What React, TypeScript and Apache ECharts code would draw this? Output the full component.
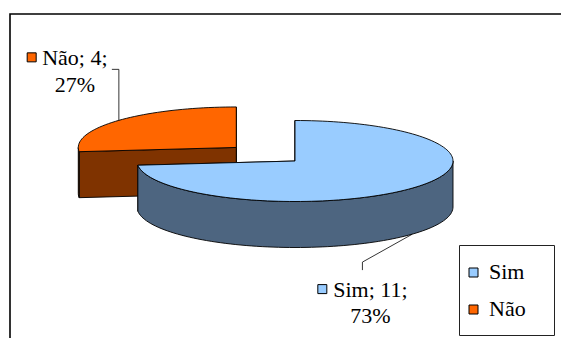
import React, { useEffect, useRef } from 'react';
import * as echarts from 'echarts';

// ---- data ----
const categories = ['Sim', 'Não'];
const values = [11, 4];

// ---- styles ----
const topColors = ['#99CCFF', '#FF6600'];
const sideColors = ['#4D6580', '#7F3300'];
const explodeFrac = [0, 0.5];
const FONT_SIZE = 22;
const FONT_FAMILY = 'Liberation Serif';

// pie geometry (layout)
const CX = 295;
const CY = 161;
const RX = 158;
const RY = 40.5;
const DEPTH = 46;

const total = values.reduce((a, b) => a + b, 0);

// approximate Times advance widths (em) for placing the label key squares
const charW: Record<string, number> = {
  S: 0.556, i: 0.278, m: 0.778, ';': 0.278, ' ': 0.25, N: 0.722, 'ã': 0.444, o: 0.5, '%': 0.833,
};
function textWidth(s: string): number {
  let w = 0;
  for (const c of s) w += (charW[c] ?? 0.5) * FONT_SIZE;
  return w;
}

function pt(cx: number, cy: number, theta: number, dy = 0): number[] {
  const r = (theta * Math.PI) / 180;
  return [cx + RX * Math.sin(r), cy - RY * Math.cos(r) + dy];
}

function arcPts(cx: number, cy: number, a: number, b: number, dy = 0): number[][] {
  const out: number[][] = [];
  const n = Math.max(2, Math.ceil(Math.abs(b - a) / 2));
  for (let i = 0; i <= n; i++) out.push(pt(cx, cy, a + ((b - a) * i) / n, dy));
  return out;
}

function sliceAngles(i: number) {
  let cum = 0;
  for (let k = 0; k < i; k++) cum += values[k];
  const start = (cum / total) * 360;
  const end = start + (values[i] / total) * 360;
  return { start, end, mid: (start + end) / 2 };
}

function sliceCenter(i: number): number[] {
  const { mid } = sliceAngles(i);
  const mr = (mid * Math.PI) / 180;
  return [CX + explodeFrac[i] * RX * Math.sin(mr), CY - explodeFrac[i] * RY * Math.cos(mr)];
}

function makeRenderItem(i: number) {
  return (_params: any, _api: any) => {
    const { start, end } = sliceAngles(i);
    const [cx, cy] = sliceCenter(i);
    const stroke = { stroke: '#000', lineWidth: 0.9 };
    const children: any[] = [];

    [end, start].forEach((ang) => {
      const rim = pt(cx, cy, ang);
      children.push({
        type: 'polygon',
        shape: { points: [[cx, cy], rim, [rim[0], rim[1] + DEPTH], [cx, cy + DEPTH]] },
        style: { fill: sideColors[i], ...stroke },
      });
    });

    const a = Math.max(start, 90);
    const b = Math.min(end, 270);
    if (b > a) {
      children.push({
        type: 'polygon',
        shape: { points: [...arcPts(cx, cy, a, b), ...arcPts(cx, cy, b, a, DEPTH)] },
        style: { fill: sideColors[i], ...stroke },
      });
    }

    children.push({
      type: 'polygon',
      shape: { points: [[cx, cy], ...arcPts(cx, cy, start, end)] },
      style: { fill: topColors[i], ...stroke },
    });
    return { type: 'group', children };
  };
}

function txt(text: string, x: number, y: number, align: string) {
  return {
    type: 'text',
    x,
    y,
    style: { text, fontFamily: FONT_FAMILY, fontSize: FONT_SIZE, fill: '#000', align, verticalAlign: 'middle' },
  };
}

function labelGraphics(): any[] {
  const out: any[] = [];
  categories.forEach((name, i) => {
    const { mid } = sliceAngles(i);
    const mr = (mid * Math.PI) / 180;
    const [cx, cy] = sliceCenter(i);
    const front = Math.cos(mr) < 0;
    const anchor = pt(cx, cy, mid, front ? DEPTH : 0);
    const pct = Math.round((values[i] / total) * 100);
    const line1 = `${name}; ${values[i]};`;
    const line2 = `${pct}%`;
    let pts: number[][];
    let tx: number;
    let y1: number;
    let y2: number;
    if (front) {
      const e = [anchor[0] - 50, anchor[1] + 28];
      const endP = [e[0], e[1] + 8];
      pts = [anchor, e, endP];
      tx = endP[0] + 8;
      y1 = endP[1] + 19;
      y2 = endP[1] + 45;
    } else {
      const e = [anchor[0], anchor[1] - 51];
      const endP = [e[0] - 7, e[1]];
      pts = [anchor, e, endP];
      tx = endP[0] - 37;
      y1 = endP[1] - 12;
      y2 = endP[1] + 15;
    }
    const left1 = tx - textWidth(line1) / 2;
    out.push({
      type: 'polyline',
      shape: { points: pts },
      style: { fill: 'none', stroke: '#000', lineWidth: 0.8 },
    });
    out.push({
      type: 'rect',
      shape: { x: left1 - 15, y: y1 - 4.5, width: 9, height: 9 },
      style: { fill: topColors[i], stroke: '#000', lineWidth: 1 },
    });
    out.push(txt(line1, tx, y1, 'center'));
    out.push(txt(line2, tx, y2, 'center'));
  });
  return out;
}

function legendGraphics(): any[] {
  const out: any[] = [
    {
      type: 'rect',
      shape: { x: 459.5, y: 245.5, width: 95, height: 90 },
      style: { fill: '#fff', stroke: '#222', lineWidth: 1 },
    },
  ];
  categories.forEach((name, i) => {
    const yMid = 271 + i * 37;
    out.push({
      type: 'rect',
      shape: { x: 469, y: yMid - 3, width: 9, height: 9 },
      style: { fill: topColors[i], stroke: '#000', lineWidth: 1 },
    });
    out.push(txt(name, 489, yMid, 'left'));
  });
  return out;
}

export default function App() {
  const pieRef = useRef<HTMLDivElement>(null);
  const textRef = useRef<HTMLDivElement>(null);
  useEffect(() => {
    if (!pieRef.current || !textRef.current) return;
    const pie = echarts.init(pieRef.current, undefined, { renderer: 'svg' });
    const order = [1, 0]; // exploded back slice first
    pie.setOption({
      animation: false,
      backgroundColor: '#fff',
      graphic: [
        {
          type: 'rect',
          shape: { x: 10, y: 14, width: 700, height: 500 },
          style: { fill: 'none', stroke: '#000', lineWidth: 1.6 },
        },
      ],
      series: order.map((i) => ({
        type: 'custom',
        name: categories[i],
        coordinateSystem: 'none',
        silent: true,
        itemStyle: { color: topColors[i] },
        data: [[values[i]]],
        renderItem: makeRenderItem(i),
      })),
    });
    const texts = echarts.init(textRef.current, undefined, { renderer: 'svg' });
    texts.setOption({
      animation: false,
      graphic: [...labelGraphics(), ...legendGraphics()],
      series: [],
    });
    return () => {
      texts.dispose();
      pie.dispose();
    };
  }, []);
  return (
    <div>
      <div ref={pieRef} style={{ position: 'absolute', left: 0, top: 0, width: 561, height: 338 }} />
      <div ref={textRef} style={{ position: 'absolute', left: 0, top: 0, width: 561, height: 338 }} />
    </div>
  );
}
